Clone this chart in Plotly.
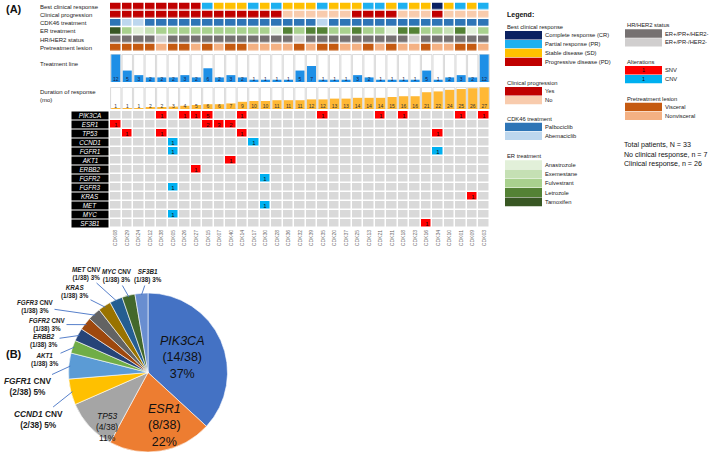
import math
import plotly.graph_objects as go

W, H = 709, 463
FONT = "Arial, Liberation Sans, sans-serif"

# ---------------- data ----------------
patients = ["CDK08", "CDK29", "CDK24", "CDK12", "CDK38", "CDK05", "CDK26", "CDK27", "CDK15", "CDK07",
            "CDK40", "CDK14", "CDK17", "CDK30", "CDK28", "CDK36", "CDK32", "CDK39", "CDK35", "CDK20",
            "CDK37", "CDK25", "CDK13", "CDK21", "CDK31", "CDK18", "CDK23", "CDK16", "CDK34", "CDK10",
            "CDK01", "CDK09", "CDK03"]

best_response = ["PD", "PD", "PD", "PD", "PD", "PD", "PD", "PD", "PR", "SD", "SD", "SD",
                 "PR", "SD", "PR", "SD", "SD", "SD", "PR", "SD", "SD", "SD", "PR", "PR",
                 "SD", "PR", "SD", "SD", "CR", "SD", "PR", "SD", "PR"]
clinical_progression = ["Yes"] * 15 + ["No"] * 6 + ["Yes"] * 4 + ["No"] * 3 + ["Yes"] + ["No"] * 4
cdk46_treatment = ["Palbociclib", "Abemaciclib", "Abemaciclib"] + ["Palbociclib"] * 15 + ["Abemaciclib"] + ["Palbociclib"] * 14
er_treatment = ["Tamoxifen", "Fulvestrant", "Anastrozole", "Exemestane", "Fulvestrant", "Fulvestrant",
                "Fulvestrant", "Fulvestrant", "Fulvestrant", "Fulvestrant", "Fulvestrant", "Fulvestrant",
                "Fulvestrant", "Fulvestrant", "Anastrozole", "Letrozole", "Fulvestrant", "Letrozole",
                "Letrozole", "Fulvestrant", "Fulvestrant", "Letrozole", "Fulvestrant", "Fulvestrant",
                "Anastrozole", "Letrozole", "Letrozole", "Fulvestrant", "Fulvestrant", "Exemestane",
                "Letrozole", "Anastrozole", "Fulvestrant"]
hr_her2_status = ["ER+/PR+/HER2-"] * 33
for _i in (4, 16, 26):
    hr_her2_status[_i] = "ER+/PR-/HER2-"
pretreatment_lesion = ["Visceral", "Visceral", "Visceral", "Visceral", "Nonvisceral", "Visceral", "Visceral",
                       "Nonvisceral", "Visceral", "Nonvisceral", "Visceral", "Visceral", "Nonvisceral",
                       "Nonvisceral", "Nonvisceral", "Nonvisceral", "Visceral", "Nonvisceral", "Visceral",
                       "Visceral", "Nonvisceral", "Nonvisceral", "Visceral", "Nonvisceral", "Visceral",
                       "Nonvisceral", "Nonvisceral", "Visceral", "Nonvisceral", "Nonvisceral", "Visceral",
                       "Visceral", "Nonvisceral"]

treatment_line = [12, 5, 3, 2, 2, 2, 3, 2, 6, 2, 3, 2, 1, 1, 1, 1, 5, 7, 1, 1, 1, 3, 2, 1, 1, 1, 1, 5, 1, 2, 3, 2, 12]
duration_mo = [1, 1, 1, 2, 2, 3, 4, 5, 6, 6, 7, 9, 10, 10, 11, 11, 11, 12, 12, 13, 13, 14, 14, 14, 15, 16, 16,
               21, 22, 24, 25, 26, 27]

genes = ["PIK3CA", "ESR1", "TP53", "CCND1", "FGFR1", "AKT1", "ERBB2", "FGFR2", "FGFR3", "KRAS", "MET", "MYC", "SF3B1"]
cnv_genes = ["CCND1", "FGFR1", "FGFR2", "FGFR3", "MET", "MYC"]
alt_gene = ["PIK3CA"] * 10 + ["ESR1"] * 4 + ["TP53"] * 4 + ["CCND1"] * 2 + ["FGFR1"] * 2 + \
           ["AKT1", "ERBB2", "FGFR2", "FGFR3", "KRAS", "MET", "MYC", "SF3B1"]
alt_patient = ["CDK38", "CDK26", "CDK27", "CDK15", "CDK14", "CDK35", "CDK21", "CDK18", "CDK01", "CDK03",
               "CDK08", "CDK15", "CDK07", "CDK40",
               "CDK29", "CDK38", "CDK14", "CDK34",
               "CDK05", "CDK17",
               "CDK05", "CDK34",
               "CDK40", "CDK27", "CDK30", "CDK05", "CDK09", "CDK30", "CDK05", "CDK16"]
alt_count = [1, 1, 1, 5, 1, 1, 1, 1, 1, 1,
             1, 2, 3, 2,
             1, 1, 1, 1,
             1, 1,
             1, 1,
             1, 1, 1, 1, 1, 1, 1, 1]

pie_genes = ["PIK3CA", "ESR1", "TP53", "CCND1", "FGFR1", "AKT1", "ERBB2", "FGFR2", "FGFR3", "KRAS", "MET", "MYC", "SF3B1"]
pie_suffix = ["", "", "", " CNV", " CNV", "", "", " CNV", " CNV", "", " CNV", " CNV", ""]
pie_counts = [14, 8, 4, 2, 2, 1, 1, 1, 1, 1, 1, 1, 1]
pie_pct = ["37%", "22%", "11%", "5%", "5%", "3%", "3%", "3%", "3%", "3%", "3%", "3%", "3%"]

# ---------------- styles ----------------
resp_colors = {"Complete response (CR)": "#0B2161", "Partial response (PR)": "#1DB0F0",
               "Stable disease (SD)": "#FFC000", "Progressive disease (PD)": "#C00000"}
resp_key = {"CR": 0, "PR": 1, "SD": 2, "PD": 3}
prog_colors = {"Yes": "#C00000", "No": "#F8CBAD"}
cdk_colors = {"Palbociclib": "#2E75B6", "Abemaciclib": "#BDD7EE"}
er_colors = {"Anastrozole": "#E2F0D9", "Exemestane": "#C5E0B4", "Fulvestrant": "#A9D18E",
             "Letrozole": "#548235", "Tamoxifen": "#385723"}
hr_colors = {"ER+/PR+/HER2-": "#767171", "ER+/PR-/HER2-": "#D0CECE"}
lesion_colors = {"Visceral": "#C55A11", "Nonvisceral": "#F4B183"}
SNV_C, CNV_C, NONE_C = "#FF0000", "#00B0F0", "#D9D9D9"
pie_colors = ["#4472C4", "#ED7D31", "#A5A5A5", "#FFC000", "#5B9BD5", "#70AD47", "#264478", "#9E480E",
              "#636363", "#997300", "#255E91", "#43682B", "#698ED0"]


def P(x, y):
    return x / W, 1 - y / H


def discrete_scale(colors):
    n = len(colors)
    cs = []
    for i, c in enumerate(colors):
        cs.append([i / n, c])
        cs.append([(i + 1) / n, c])
    return cs


n = len(patients)
xs = list(range(n))
fig = go.Figure()

# ---- categorical tracks ----
tracks = [
    ("Best clinical response", [resp_key[v] for v in best_response], list(resp_colors.values())),
    ("Clinical progression", [list(prog_colors).index(v) for v in clinical_progression], list(prog_colors.values())),
    ("CDK46 treatment", [list(cdk_colors).index(v) for v in cdk46_treatment], list(cdk_colors.values())),
    ("ER treatment", [list(er_colors).index(v) for v in er_treatment], list(er_colors.values())),
    ("HR/HER2 status", [list(hr_colors).index(v) for v in hr_her2_status], list(hr_colors.values())),
    ("Pretreatment lesion", [list(lesion_colors).index(v) for v in pretreatment_lesion], list(lesion_colors.values())),
]
for i, (name, codes, cols) in enumerate(tracks):
    fig.add_trace(go.Heatmap(x=xs, y=[i], z=[codes], colorscale=discrete_scale(cols), zmin=-0.5,
                             zmax=len(cols) - 0.5, showscale=False, xgap=1.5, ygap=1.3,
                             hoverinfo="skip", xaxis="x", yaxis="y"))

# ---- treatment line ----
tl_max = max(treatment_line)
fig.add_trace(go.Bar(x=xs, y=[tl_max] * n, width=0.9, marker=dict(color="white", line=dict(color="#D0D0D0", width=0.8)),
                     hoverinfo="skip", xaxis="x", yaxis="y2"))
fig.add_trace(go.Bar(x=xs, y=treatment_line, width=0.78, marker=dict(color="#1E8FE6", line=dict(width=0)),
                     xaxis="x", yaxis="y2"))
fig.add_trace(go.Scatter(x=xs, y=[0] * n, mode="text", text=[str(v) for v in treatment_line],
                         textposition="top center", textfont=dict(size=5, color="#1a1a40", family=FONT),
                         hoverinfo="skip", xaxis="x", yaxis="y2"))

# ---- duration ----
du_max = max(duration_mo)
fig.add_trace(go.Bar(x=xs, y=[du_max] * n, width=0.9, marker=dict(color="white", line=dict(color="#D0D0D0", width=0.8)),
                     hoverinfo="skip", xaxis="x", yaxis="y3"))
fig.add_trace(go.Bar(x=xs, y=duration_mo, width=0.8, marker=dict(color="#FFB834", line=dict(width=0)),
                     xaxis="x", yaxis="y3"))
fig.add_trace(go.Scatter(x=xs, y=[0] * n, mode="text", text=[str(v) for v in duration_mo],
                         textposition="top center", textfont=dict(size=5, color="#333333", family=FONT),
                         hoverinfo="skip", xaxis="x", yaxis="y3"))

# ---- alteration matrix ----
z = [[0] * n for _ in genes]
txt = [[""] * n for _ in genes]
for g, p, c in zip(alt_gene, alt_patient, alt_count):
    gi, pi = genes.index(g), patients.index(p)
    z[gi][pi] = 2 if g in cnv_genes else 1
    txt[gi][pi] = str(c)
fig.add_trace(go.Heatmap(x=xs, y=list(range(len(genes))), z=z, text=txt, texttemplate="%{text}",
                         textfont=dict(size=6, color="#111111", family=FONT),
                         colorscale=discrete_scale([NONE_C, SNV_C, CNV_C]), zmin=-0.5, zmax=2.5,
                         showscale=False, xgap=1.5, ygap=1.5, hoverinfo="skip", xaxis="x", yaxis="y4"))

# ---- pie ----
pie_x0, pie_x1, pie_y0, pie_y1 = 65, 231, 293, 452
px0, py1 = P(pie_x0, pie_y0)
px1, py0 = P(pie_x1, pie_y1)
fig.add_trace(go.Pie(values=pie_counts, labels=[g + s for g, s in zip(pie_genes, pie_suffix)], sort=False,
                     direction="clockwise", rotation=0, textinfo="none", hoverinfo="label+value",
                     marker=dict(colors=pie_colors, line=dict(color="white", width=0.6)),
                     domain=dict(x=[px0, px1], y=[py0, py1]), showlegend=False))

annotations = []
shapes = []


def add_text(x, y, text, size=6, color="#222222", xanchor="left", yanchor="middle", **kw):
    ax_, ay_ = P(x, y)
    annotations.append(dict(x=ax_, y=ay_, xref="paper", yref="paper", text=text, showarrow=False,
                            xanchor=xanchor, yanchor=yanchor,
                            font=dict(size=size, color=color, family=FONT), **kw))


def add_rect(x0, y0, x1, y1, color):
    shapes.append(dict(type="rect", xref="paper", yref="paper", x0=x0 / W, x1=x1 / W, y0=1 - y1 / H,
                       y1=1 - y0 / H, fillcolor=color, line=dict(width=0), layer="above"))


# panel letters
add_text(4, 9, "<b>(A)</b>", size=11, color="#111")
add_text(4, 354, "<b>(B)</b>", size=11, color="#111")

# track labels
for i, (name, _, _) in enumerate(tracks):
    annotations.append(dict(x=38 / W, y=i, xref="paper", yref="y", text=name, showarrow=False, xanchor="left",
                            yanchor="middle", font=dict(size=6, color="#222", family=FONT)))
add_text(38, 64, "Treatment line", size=6)
add_text(38, 96, "Duration of response<br>(mo)", size=6, align="left")

# gene label boxes
for gi, g in enumerate(genes):
    annotations.append(dict(x=90 / W, y=gi, xref="paper", yref="y4", text="<i>%s</i>" % g, showarrow=False,
                            xanchor="center", yanchor="middle", width=36, height=7.4, bgcolor="black",
                            borderpad=0, font=dict(size=6.3, color="white", family=FONT)))

# ---- legend ----
add_text(505, 15, "<b>Legend:</b>", size=7, color="#111")


def legend_block(title, ty, items, x0, x1, lx, top, h=8.9, gap=0.5, inner=None):
    add_text(x0, ty, title, size=5.8)
    y = top
    for k, (lab, col) in enumerate(items):
        add_rect(x0, y, x1, y + h - gap, col)
        add_text(lx, y + (h - gap) / 2, lab, size=5.8)
        if inner:
            add_text((x0 + x1) / 2, y + (h - gap) / 2, inner[k], size=5.5, color="#111", xanchor="center")
        y += h


legend_block("Best clinical response", 27, list(resp_colors.items()), 505, 542, 543, 31)
legend_block("Clinical progression", 83, list(prog_colors.items()), 505, 542, 543, 87)
legend_block("CDK46 treatment", 119, list(cdk_colors.items()), 505, 542, 543, 122.7)
legend_block("ER treatment", 156, list(er_colors.items()), 505, 542, 543, 160.2, h=9.3)
legend_block("HR/HER2 status", 25, list(hr_colors.items()), 625, 662, 663, 29.3)
legend_block("Alterations", 62, [("SNV", SNV_C), ("CNV", CNV_C)], 625, 662, 663, 66, inner=["1", "1"])
legend_block("Pretreatment lesion", 99, list(lesion_colors.items()), 625, 662, 663, 102.7)

add_text(622, 145, "Total patients, N = 33", size=7.1, color="#111")
add_text(622, 154.5, "No clinical response, n = 7", size=7.1, color="#111")
add_text(622, 164, "Clinical response, n = 26", size=7.1, color="#111")

# ---- pie labels ----
total = sum(pie_counts)
cx, cy = (pie_x0 + pie_x1) / 2, (pie_y0 + pie_y1) / 2
rad = min(pie_x1 - pie_x0, pie_y1 - pie_y0) / 2
inside_pos = {"PIK3CA": (182, 357, 12.5), "ESR1": (164, 425, 12.5), "TP53": (107, 427, 8.5)}
outside_pos = {"CCND1": (38, 419, 8.3), "FGFR1": (27, 386, 8.3), "AKT1": (45, 360, 6.3), "ERBB2": (44, 340.5, 6.3),
               "FGFR2": (47, 324.5, 6.3), "FGFR3": (35, 306.5, 6.3), "KRAS": (75, 292, 6.3), "MET": (86, 273.5, 6.3),
               "MYC": (117, 276, 6.3), "SF3B1": (148, 276, 6.3)}
cum = 0
for g, s, c, pct in zip(pie_genes, pie_suffix, pie_counts, pie_pct):
    mid = (cum + c / 2) / total * 2 * math.pi
    cum += c
    if g in inside_pos:
        tx, ty, sz = inside_pos[g]
        add_text(tx, ty, "<i>%s</i>%s<br>(%d/%d)<br>%s" % (g, s, c, total, pct), size=sz, color="#111",
                 xanchor="center", align="center")
    else:
        tx, ty, sz = outside_pos[g]
        tipx = cx + rad * 0.98 * math.sin(mid)
        tipy = cy - rad * 0.98 * math.cos(mid)
        annotations.append(dict(x=tipx / W, y=1 - tipy / H, xref="paper", yref="paper",
                                text="<b><i>%s</i>%s<br>(%d/%d) %s</b>" % (g, s, c, total, pct),
                                showarrow=True, arrowhead=0, arrowwidth=0.9, arrowcolor="#4472C4",
                                ax=tx - tipx, ay=ty - tipy, standoff=0, align="center",
                                font=dict(size=sz, color="#222", family=FONT)))

fig.update_layout(
    width=W, height=H, margin=dict(l=0, r=0, t=0, b=0), paper_bgcolor="white", plot_bgcolor="white",
    showlegend=False, barmode="overlay", font=dict(family=FONT),
    xaxis=dict(domain=[110 / W, 490 / W], range=[-0.5, n - 0.5], anchor="y4", tickmode="array",
               tickvals=xs, ticktext=patients, tickangle=-90, tickfont=dict(size=5, color="#666"),
               showgrid=False, zeroline=False, showline=False, ticks=""),
    yaxis=dict(domain=[1 - 52 / H, 1 - 2.5 / H], range=[5.5, -0.5], visible=False),
    yaxis2=dict(domain=[1 - 82 / H, 1 - 54 / H], range=[0, tl_max * 1.02], visible=False),
    yaxis3=dict(domain=[1 - 109 / H, 1 - 87 / H], range=[0, du_max * 1.02], visible=False),
    yaxis4=dict(domain=[1 - 228 / H, 1 - 111 / H], range=[len(genes) - 0.5, -0.5], visible=False),
    annotations=annotations, shapes=shapes,
)

fig.write_html("out.html", config={"displayModeBar": False},
               post_script="document.body.style.margin='0';document.body.style.padding='0';")
